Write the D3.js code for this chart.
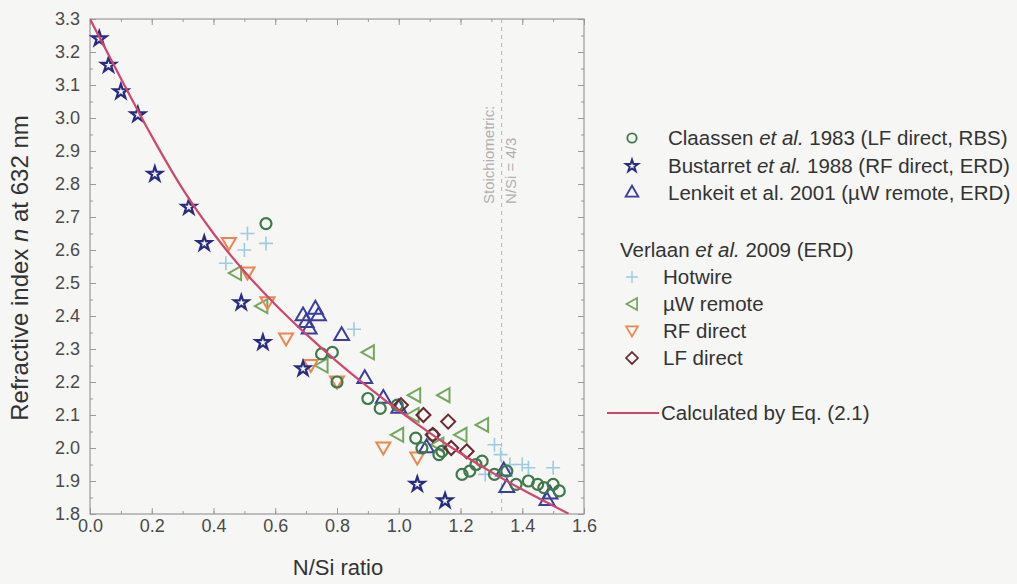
<!DOCTYPE html>
<html>
<head>
<meta charset="utf-8">
<script src="https://cdn.jsdelivr.net/npm/d3@7"></script>
<style>
  html, body { margin: 0; padding: 0; background: #f6f6f4; }
  svg { display: block; font-family: "Liberation Sans", Arial, Helvetica, sans-serif; }
</style>
</head>
<body>
<svg id="chart" width="1017" height="584"></svg>
<script>
// Claassen et al. 1983 (LF direct, RBS)
const claassenNSi = [0.57, 0.75, 0.785, 0.80, 0.90, 0.94, 0.995, 1.055, 1.075, 1.11, 1.13, 1.14, 1.205, 1.23, 1.25, 1.27, 1.31, 1.35, 1.38, 1.42, 1.45, 1.47, 1.50, 1.52];
const claassenN   = [2.68, 2.285, 2.29, 2.20, 2.15, 2.12, 2.13, 2.03, 2.00, 2.04, 1.98, 1.99, 1.92, 1.93, 1.95, 1.96, 1.92, 1.93, 1.89, 1.90, 1.89, 1.88, 1.89, 1.87];

// Bustarret et al. 1988 (RF direct, ERD)
const bustarretNSi = [0.03, 0.06, 0.10, 0.155, 0.21, 0.32, 0.37, 0.49, 0.56, 0.69, 1.06, 1.15];
const bustarretN   = [3.24, 3.16, 3.08, 3.01, 2.83, 2.73, 2.62, 2.44, 2.32, 2.24, 1.89, 1.84];

// Lenkeit et al. 2001 (µW remote, ERD)
const lenkeitNSi = [0.69, 0.70, 0.71, 0.73, 0.74, 0.815, 0.89, 0.95, 1.00, 1.09, 1.34, 1.35, 1.48, 1.49];
const lenkeitN   = [2.40, 2.38, 2.36, 2.42, 2.40, 2.34, 2.21, 2.15, 2.12, 2.00, 1.93, 1.88, 1.84, 1.86];

// Verlaan et al. 2009 (ERD)
const hotwireNSi = [0.44, 0.50, 0.51, 0.57, 0.855, 1.28, 1.31, 1.33, 1.36, 1.40, 1.42, 1.50];
const hotwireN   = [2.56, 2.60, 2.65, 2.62, 2.36, 1.92, 2.01, 1.98, 1.95, 1.95, 1.94, 1.94];

const uwRemoteNSi = [0.47, 0.555, 0.75, 0.90, 0.995, 1.045, 1.05, 1.125, 1.145, 1.20, 1.27];
const uwRemoteN   = [2.53, 2.43, 2.25, 2.29, 2.04, 2.10, 2.16, 2.01, 2.16, 2.04, 2.07];

const rfDirectNSi = [0.45, 0.51, 0.575, 0.635, 0.715, 0.80, 0.95, 1.06];
const rfDirectN   = [2.62, 2.53, 2.44, 2.33, 2.25, 2.20, 2.00, 1.97];

const lfDirectNSi = [1.007, 1.08, 1.16, 1.11, 1.17, 1.22];
const lfDirectN   = [2.13, 2.10, 2.08, 2.04, 2.00, 1.99];

// Curve calculated by Eq. (2.1), sampled values
const eqNSi = [0.00, 0.10, 0.20, 0.30, 0.40, 0.50, 0.60, 0.70, 0.80, 0.90, 1.00, 1.10, 1.20, 1.30, 1.40, 1.50, 1.55];
const eqN   = [3.30, 3.12, 2.945, 2.785, 2.65, 2.535, 2.435, 2.345, 2.262, 2.185, 2.113, 2.046, 1.984, 1.927, 1.874, 1.825, 1.801];

const xTicks = [0.0, 0.2, 0.4, 0.6, 0.8, 1.0, 1.2, 1.4, 1.6];
const yTicks = [1.8, 1.9, 2.0, 2.1, 2.2, 2.3, 2.4, 2.5, 2.6, 2.7, 2.8, 2.9, 3.0, 3.1, 3.2, 3.3];
const stoichiometric = 4 / 3;

const svg = d3.select("#chart");
const plot = { left: 90, top: 19, right: 584, bottom: 514 };

const x = d3.scaleLinear().domain([0, 1.6]).range([plot.left, plot.right]);
const y = d3.scaleLinear().domain([1.8, 3.3]).range([plot.bottom, plot.top]);

const frameColor = "#9a9a9a";
const labelColor = "#4a4a4a";

// Minor / major ticks on all four sides, pointing inward
const xMinor = d3.range(0, 1.6001, 0.1);
const yMinor = d3.range(1.8, 3.3001, 0.05);

function styleAxis(g) {
  g.select(".domain").remove();
  g.selectAll(".tick line").attr("stroke", frameColor).attr("stroke-width", 1);
  g.selectAll(".tick text").attr("fill", labelColor);
}

svg.append("g").attr("transform", `translate(0,${plot.bottom})`)
  .call(d3.axisBottom(x).tickValues(xMinor).tickSize(-3).tickFormat(""))
  .call(styleAxis);
svg.append("g").attr("transform", `translate(0,${plot.top})`)
  .call(d3.axisTop(x).tickValues(xMinor).tickSize(-3).tickFormat(""))
  .call(styleAxis);
svg.append("g").attr("transform", `translate(${plot.left},0)`)
  .call(d3.axisLeft(y).tickValues(yMinor).tickSize(-3).tickFormat(""))
  .call(styleAxis);
svg.append("g").attr("transform", `translate(${plot.right},0)`)
  .call(d3.axisRight(y).tickValues(yMinor).tickSize(-3).tickFormat(""))
  .call(styleAxis);

svg.append("g").attr("transform", `translate(0,${plot.bottom})`)
  .call(d3.axisBottom(x).tickValues(xTicks).tickSize(-6).tickPadding(5).tickFormat(d3.format(".1f")))
  .call(styleAxis)
  .selectAll("text").attr("font-size", 18).attr("dy", "0.71em");
svg.append("g").attr("transform", `translate(0,${plot.top})`)
  .call(d3.axisTop(x).tickValues(xTicks).tickSize(-6).tickFormat(""))
  .call(styleAxis);
svg.append("g").attr("transform", `translate(${plot.left},0)`)
  .call(d3.axisLeft(y).tickValues(yTicks).tickSize(-6).tickPadding(10).tickFormat(d3.format(".1f")))
  .call(styleAxis)
  .selectAll("text").attr("font-size", 18);
svg.append("g").attr("transform", `translate(${plot.right},0)`)
  .call(d3.axisRight(y).tickValues(yTicks).tickSize(-6).tickFormat(""))
  .call(styleAxis);

// Plot frame
svg.append("rect")
  .attr("x", plot.left).attr("y", plot.top)
  .attr("width", plot.right - plot.left).attr("height", plot.bottom - plot.top)
  .attr("fill", "none").attr("stroke", frameColor).attr("stroke-width", 1.2);

// Axis titles
svg.append("text")
  .attr("x", 338).attr("y", 575)
  .attr("text-anchor", "middle").attr("font-size", 22).attr("fill", "#333")
  .text("N/Si ratio");

const yTitle = svg.append("text")
  .attr("transform", `translate(28,268) rotate(-90)`)
  .attr("text-anchor", "middle").attr("font-size", 24).attr("fill", "#333");
yTitle.append("tspan").text("Refractive index ");
yTitle.append("tspan").attr("font-style", "italic").text("n");
yTitle.append("tspan").text(" at 632 nm");

// Stoichiometric composition marker
svg.append("line")
  .attr("x1", x(stoichiometric)).attr("x2", x(stoichiometric))
  .attr("y1", plot.top).attr("y2", plot.bottom)
  .attr("stroke", "#b4b4b4").attr("stroke-width", 1).attr("stroke-dasharray", "4,4");
svg.append("text")
  .attr("transform", `translate(${x(stoichiometric) - 8},204) rotate(-90)`)
  .attr("font-size", 15).attr("fill", "#b0b0b0")
  .text("Stoichiometric:");
svg.append("text")
  .attr("transform", `translate(${x(stoichiometric) + 14},204) rotate(-90)`)
  .attr("font-size", 15).attr("fill", "#b0b0b0")
  .text("N/Si = 4/3");

// Marker shapes
const shapes = {
  circle: () => d3.symbol().type(d3.symbolCircle).size(95)(),
  star: () => d3.symbol().type(d3.symbolStar).size(65)(),
  triUp: () => d3.symbol().type(d3.symbolTriangle).size(95)(),
  triLeft: () => "M-6.5,0L6,-7L6,7Z",
  triDown: () => "M-7,-5.5L7,-5.5L0,6.5Z",
  diamond: () => "M0,-7L7,0L0,7L-7,0Z",
  plus: () => "M-7,0H7M0,-7V7"
};

const series = [
  { name: "hotwire", xs: hotwireNSi, ys: hotwireN, shape: "plus", color: "#9ccbe2", width: 1.6 },
  { name: "uw", xs: uwRemoteNSi, ys: uwRemoteN, shape: "triLeft", color: "#74a85f", width: 2 },
  { name: "rf", xs: rfDirectNSi, ys: rfDirectN, shape: "triDown", color: "#ea8750", width: 2 },
  { name: "lenkeit", xs: lenkeitNSi, ys: lenkeitN, shape: "triUp", color: "#3a3f9e", width: 2 },
  { name: "bustarret", xs: bustarretNSi, ys: bustarretN, shape: "star", color: "#272c80", width: 2.2 },
  { name: "claassen", xs: claassenNSi, ys: claassenN, shape: "circle", color: "#3e7a4c", width: 2.2 },
  { name: "lf", xs: lfDirectNSi, ys: lfDirectN, shape: "diamond", color: "#6a2834", width: 2 }
];

series.forEach(s => {
  svg.append("g").attr("class", "series-" + s.name)
    .selectAll("path")
    .data(s.xs.map((v, i) => [v, s.ys[i]]))
    .join("path")
    .attr("d", shapes[s.shape]())
    .attr("transform", d => `translate(${x(d[0])},${y(d[1])})`)
    .attr("fill", "none")
    .attr("stroke", s.color)
    .attr("stroke-width", s.width)
    .attr("stroke-linejoin", "miter");
});

// Calculated curve
svg.append("clipPath").attr("id", "plotClip")
  .append("rect").attr("x", plot.left).attr("y", plot.top)
  .attr("width", plot.right - plot.left).attr("height", plot.bottom - plot.top);

const curveColor = "#d0476c";
svg.append("path")
  .datum(eqNSi.map((v, i) => [v, eqN[i]]))
  .attr("clip-path", "url(#plotClip)")
  .attr("d", d3.line().x(d => x(d[0])).y(d => y(d[1])).curve(d3.curveMonotoneX))
  .attr("fill", "none").attr("stroke", curveColor).attr("stroke-width", 2.2);

// Legend
const legend = svg.append("g").attr("font-size", 20.5).attr("fill", "#333");
const mx = 632, tx = 668;
const legendRows = [
  { shape: "circle", color: "#3e7a4c", y: 138, parts: [["Claassen ", false], ["et al.", true], [" 1983 (LF direct, RBS)", false]] },
  { shape: "star", color: "#272c80", y: 166, parts: [["Bustarret ", false], ["et al.", true], [" 1988 (RF direct, ERD)", false]] },
  { shape: "triUp", color: "#3a3f9e", y: 193, parts: [["Lenkeit et al. 2001 (\u00b5W remote, ERD)", false]] }
];
const subRows = [
  { shape: "plus", color: "#9ccbe2", y: 277, label: "Hotwire", w: 1.6 },
  { shape: "triLeft", color: "#74a85f", y: 304, label: "\u00b5W remote", w: 2 },
  { shape: "triDown", color: "#ea8750", y: 331, label: "RF direct", w: 2 },
  { shape: "diamond", color: "#6a2834", y: 358, label: "LF direct", w: 2 }
];

const legendScale = 0.85;
legendRows.forEach(r => {
  legend.append("path")
    .attr("d", shapes[r.shape]())
    .attr("transform", `translate(${mx},${r.y}) scale(${legendScale})`)
    .attr("fill", "none").attr("stroke", r.color).attr("stroke-width", 2.2);
  const t = legend.append("text").attr("x", tx).attr("y", r.y).attr("dy", "0.35em");
  r.parts.forEach(p => t.append("tspan").attr("font-style", p[1] ? "italic" : null).text(p[0]));
});

const vt = legend.append("text").attr("x", 620).attr("y", 250).attr("dy", "0.35em");
vt.append("tspan").text("Verlaan ");
vt.append("tspan").attr("font-style", "italic").text("et al.");
vt.append("tspan").text(" 2009 (ERD)");

subRows.forEach(r => {
  legend.append("path")
    .attr("d", shapes[r.shape]())
    .attr("transform", `translate(${mx},${r.y}) scale(${legendScale})`)
    .attr("fill", "none").attr("stroke", r.color).attr("stroke-width", r.w);
  legend.append("text").attr("x", 663).attr("y", r.y).attr("dy", "0.35em").text(r.label);
});

legend.append("line")
  .attr("x1", 607).attr("x2", 659).attr("y1", 413).attr("y2", 413)
  .attr("stroke", curveColor).attr("stroke-width", 2.2);
legend.append("text").attr("x", 661).attr("y", 413).attr("dy", "0.35em").text("Calculated by Eq. (2.1)");
</script>
</body>
</html>
